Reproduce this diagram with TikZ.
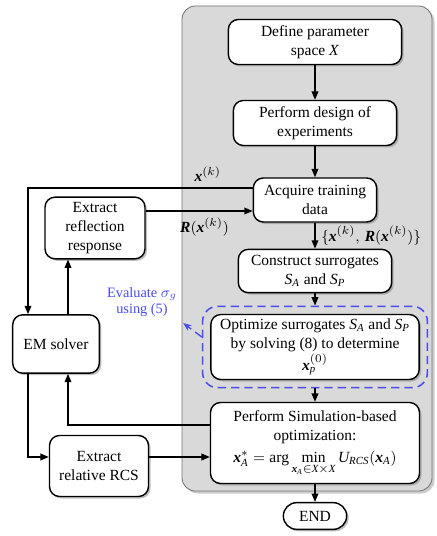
\documentclass[tikz,border=0pt]{standalone}
\usepackage{amsmath}
\usepackage{fontspec}
\setmainfont{Liberation Serif}
\usepackage{tikz}
\usetikzlibrary{arrows.meta, shadows, fit}

\definecolor{evalblue}{RGB}{75,75,240}
\definecolor{panelgray}{RGB}{217,217,217}
\newcommand{\bx}{\textbf{\textit{x}}}
\newcommand{\bR}{\textbf{\textit{R}}}

\begin{document}
\begin{tikzpicture}[x=0.6pt, y=-0.6pt, line width=0.85pt,
    font=\fontsize{9.3}{11.5}\selectfont,
    box/.style={draw, fill=white, rounded corners=6pt, align=center, inner sep=1pt,
      drop shadow={shadow xshift=1.2pt, shadow yshift=-1.2pt, opacity=0.5}},
    arr/.style={-{Triangle[length=5pt, width=4pt]}}]
    \useasboundingbox (0,0) rectangle (436,536);
    % Gray panel for the surrogate part
    \draw[draw=black!55, line width=0.5pt, fill=panelgray, rounded corners=8pt,
      drop shadow={shadow xshift=1.5pt, shadow yshift=-1.5pt, opacity=0.4}] (182,6) rectangle (432,491);
    % Main column
    \node[box, minimum width=104pt, minimum height=27pt] (def) at (315,42) {Define parameter\\space \textit{X}};
    \node[box, minimum width=98pt, minimum height=27pt] (doe) at (315,123) {Perform design of\\experiments};
    \node[box, minimum width=74pt, minimum height=26.4pt] (acq) at (315,200) {Acquire training\\data};
    \node[box, minimum width=92pt, minimum height=26pt] (sur) at (315,271) {Construct surrogates\\$\mathit{S}_{\mathit{A}}$ and $\mathit{S}_{\mathit{P}}$};
    \node[box, minimum width=125pt, minimum height=39pt] (opt) at (315,347)
      {Optimize surrogates $\mathit{S}_{\mathit{A}}$ and $\mathit{S}_{\mathit{P}}$\\by solving (8) to determine\\$\bx_{\mathit{p}}^{(0)}$};
    \node[box, minimum width=125.4pt, minimum height=48.6pt] (sim) at (315,443)
      {Perform Simulation-based\\optimization:\\[2pt]$\bx_{\mathit{A}}^{*} = \arg\min\limits_{\bx_{\mathit{A}}\in \mathit{X}\times \mathit{X}} \mathit{U}_{\mathit{RCS}}(\bx_{\mathit{A}})$};
    \node[box, rounded corners=8pt, minimum width=38pt, minimum height=16pt] (end) at (315,516) {END};
    % EM side
    \node[box, minimum width=60pt, minimum height=37pt] (refl) at (95,228) {Extract\\reflection\\response};
    \node[box, minimum width=52pt, minimum height=35pt] (em) at (56,344) {EM solver};
    \node[box, minimum width=59.4pt, minimum height=36.6pt] (rcs) at (99,466) {Extract\\relative RCS};
    \coordinate (cl) at (28,0);
    \coordinate (cr) at (68,0);
    % Surrogate evaluation
    \node[draw=evalblue, dash pattern=on 5pt off 3pt, rounded corners=9pt, line width=0.9pt,
      fit=(opt), inner sep=4.5pt] (evalbox) {};
    \node[text=evalblue, font=\fontsize{8.6}{10}\selectfont, align=center] (evaltxt) at (142,302) {Evaluate $\sigma_g$\\using (5)};
    \draw[evalblue, dash pattern=on 5pt off 3pt, -{Stealth[length=5pt, width=4pt]}] ([yshift=6pt]evalbox.west) -- (evaltxt.south east);
    % Flow arrows
    \draw[arr] (def) -- (doe);
    \draw[arr] (doe) -- (acq);
    \draw[arr] (acq) -- (sur) node[midway, right] {$\{\bx^{(k)},\, \bR(\bx^{(k)})\}$};
    \draw[arr] (sur) -- (evalbox);
    \draw[arr] (evalbox) -- (sim);
    \draw[arr] (sim) -- (end);
    \coordinate (xout) at ([yshift=7.2pt]acq.west);
    \draw[arr] (xout) -| (em.north -| cl) node[pos=0.1, above] {$\bx^{(k)}$};
    \coordinate (rout) at ([yshift=10.2pt]refl.east);
    \draw[arr] (rout) -- (rout -| acq.west) node[pos=0.55, below] {$\bR(\bx^{(k)})$};
    \draw[arr] (em.north -| cr) -- (refl.south -| cr);
    \coordinate (sout) at ([yshift=10.8pt]sim.west);
    \draw[arr] (sout) -| (em.south -| cr);
    \coordinate (rcsin) at ([yshift=5.4pt]rcs.west);
    \draw[arr] (em.south -| cl) |- (rcsin);
    \coordinate (rcsout) at ([yshift=5.4pt]rcs.east);
    \draw[arr] (rcsout) -- (rcsout -| sim.west);
\end{tikzpicture}
\end{document}
